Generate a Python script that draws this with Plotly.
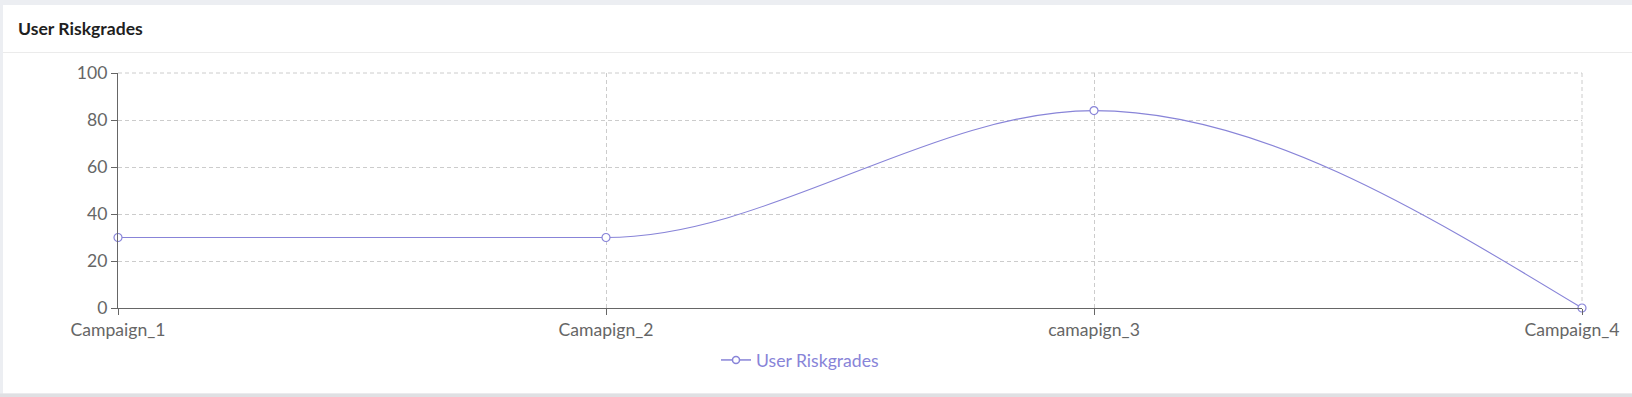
import plotly.graph_objects as go

categories = ["Campaign_1", "Camapign_2", "camapign_3", "Campaign_4"]
riskgrades = [30, 30, 84, 0]
y_ticks = [0, 20, 40, 60, 80, 100]
series_name = "User Riskgrades"

W, H = 1632, 397
ML, MR, MT, MB = 118, 50, 73, 89
PW, PH = W - ML - MR, H - MT - MB
COLOR = "#8884d8"
AXIS = "#666666"
GRID = "#cccccc"
FS = 17.6


def px_x(p):
    return (p - ML) / PW


def px_y(p):
    return (H - MB - p) / PH


xs = list(range(len(categories)))


# monotone-x curve (same as d3 curveMonotoneX used by the original renderer)
def sgn(v):
    return -1 if v < 0 else 1


def monotone_path(x, y):
    n = len(x)
    t = [0.0] * n
    for i in range(1, n - 1):
        h0, h1 = x[i] - x[i - 1], x[i + 1] - x[i]
        s0, s1 = (y[i] - y[i - 1]) / h0, (y[i + 1] - y[i]) / h1
        p = (s0 * h1 + s1 * h0) / (h0 + h1)
        t[i] = (sgn(s0) + sgn(s1)) * min(abs(s0), abs(s1), 0.5 * abs(p))
    t[0] = (3 * (y[1] - y[0]) / (x[1] - x[0]) - t[1]) / 2
    t[-1] = (3 * (y[-1] - y[-2]) / (x[-1] - x[-2]) - t[-2]) / 2
    d = f"M{x[0]},{y[0]}"
    for i in range(n - 1):
        dx = (x[i + 1] - x[i]) / 3
        d += (f" C{x[i] + dx},{y[i] + dx * t[i]} {x[i + 1] - dx},{y[i + 1] - dx * t[i + 1]}"
              f" {x[i + 1]},{y[i + 1]}")
    return d


fig = go.Figure()
# data points (curve drawn as a monotone path below)
fig.add_trace(go.Scatter(
    x=xs, y=riskgrades, name=series_name, mode="markers", showlegend=False,
    marker=dict(size=8, color="white", line=dict(color=COLOR, width=1.2)),
    cliponaxis=False,
))
# legend entry for the series (also anchors the overlay axis used for the last label)
fig.add_trace(go.Scatter(
    x=[None], y=[None], name=series_name, mode="lines+markers", xaxis="x2",
    line=dict(color=COLOR, width=1.5),
    marker=dict(size=7, color="white", line=dict(color=COLOR, width=1.5)),
))

dash = dict(color=GRID, width=1, dash="4px,3px")
shapes = [
    # white card
    dict(type="rect", xref="paper", yref="paper", layer="below",
         x0=px_x(3), x1=px_x(W + 5), y0=px_y(393.5), y1=px_y(5),
         fillcolor="white", line=dict(width=0)),
    # bottom shadow band
    dict(type="rect", xref="paper", yref="paper", layer="below",
         x0=px_x(-5), x1=px_x(W + 5), y0=px_y(H + 5), y1=px_y(393.5),
         fillcolor="#dfe0e3", line=dict(width=0)),
    # header separator
    dict(type="line", xref="paper", yref="paper", layer="below",
         x0=px_x(3), x1=px_x(W + 5), y0=px_y(52.5), y1=px_y(52.5),
         line=dict(color="#ebebeb", width=1)),
    # outer grid lines at range edges
    dict(type="line", xref="paper", yref="paper", layer="below",
         x0=0, x1=1, y0=1, y1=1, line=dash),
    dict(type="line", xref="paper", yref="paper", layer="below",
         x0=1, x1=1, y0=0, y1=1, line=dash),
    # curve
    dict(type="path", xref="x", yref="y", layer="between",
         path=monotone_path(xs, riskgrades), line=dict(color=COLOR, width=1.1)),
]

fig.update_layout(
    width=W, height=H,
    margin=dict(l=ML, r=MR, t=MT, b=MB, autoexpand=False),
    paper_bgcolor="#eceef2",
    plot_bgcolor="rgba(0,0,0,0)",
    font=dict(family="Lato", size=FS, color=AXIS),
    title=dict(text="<b>User Riskgrades</b>", xref="container", yref="container",
               x=18 / W, xanchor="left", y=1 - 29 / H, yanchor="middle",
               font=dict(family="Lato", size=FS, color="#1f1f1f")),
    shapes=shapes,
    showlegend=True,
    legend=dict(orientation="h", x=px_x(716), xanchor="left", y=px_y(360), yanchor="middle",
                font=dict(color=COLOR, size=FS), itemwidth=30, bgcolor="rgba(0,0,0,0)"),
    hovermode=False,
)
axis_style = dict(
    showline=True, linecolor=AXIS, linewidth=1,
    ticks="outside", ticklen=6, tickcolor=AXIS,
    showgrid=True, gridcolor=GRID, griddash="4px,3px", gridwidth=1,
    zeroline=False, tickfont=dict(color=AXIS, size=FS), automargin=False,
)
# last category label is nudged inward (as the original renderer keeps it inside the card)
fig.update_xaxes(range=[0, 3], tickvals=xs, ticktext=categories[:-1] + [""], **axis_style)
fig.update_yaxes(range=[0, 100], tickvals=y_ticks, **axis_style)
fig.update_layout(xaxis2=dict(
    overlaying="x", anchor="y", side="bottom", range=[0, 3],
    tickvals=xs[-1:], ticktext=categories[-1:],
    ticks="outside", ticklen=6, tickcolor="rgba(0,0,0,0)", showline=False,
    showgrid=False, zeroline=False, ticklabelshift=-10,
    tickfont=dict(color=AXIS, size=FS), automargin=False,
))

fig.write_html(
    "out.html",
    config={"displayModeBar": False},
    post_script="document.body.style.margin='0';document.body.style.overflow='hidden';",
)
